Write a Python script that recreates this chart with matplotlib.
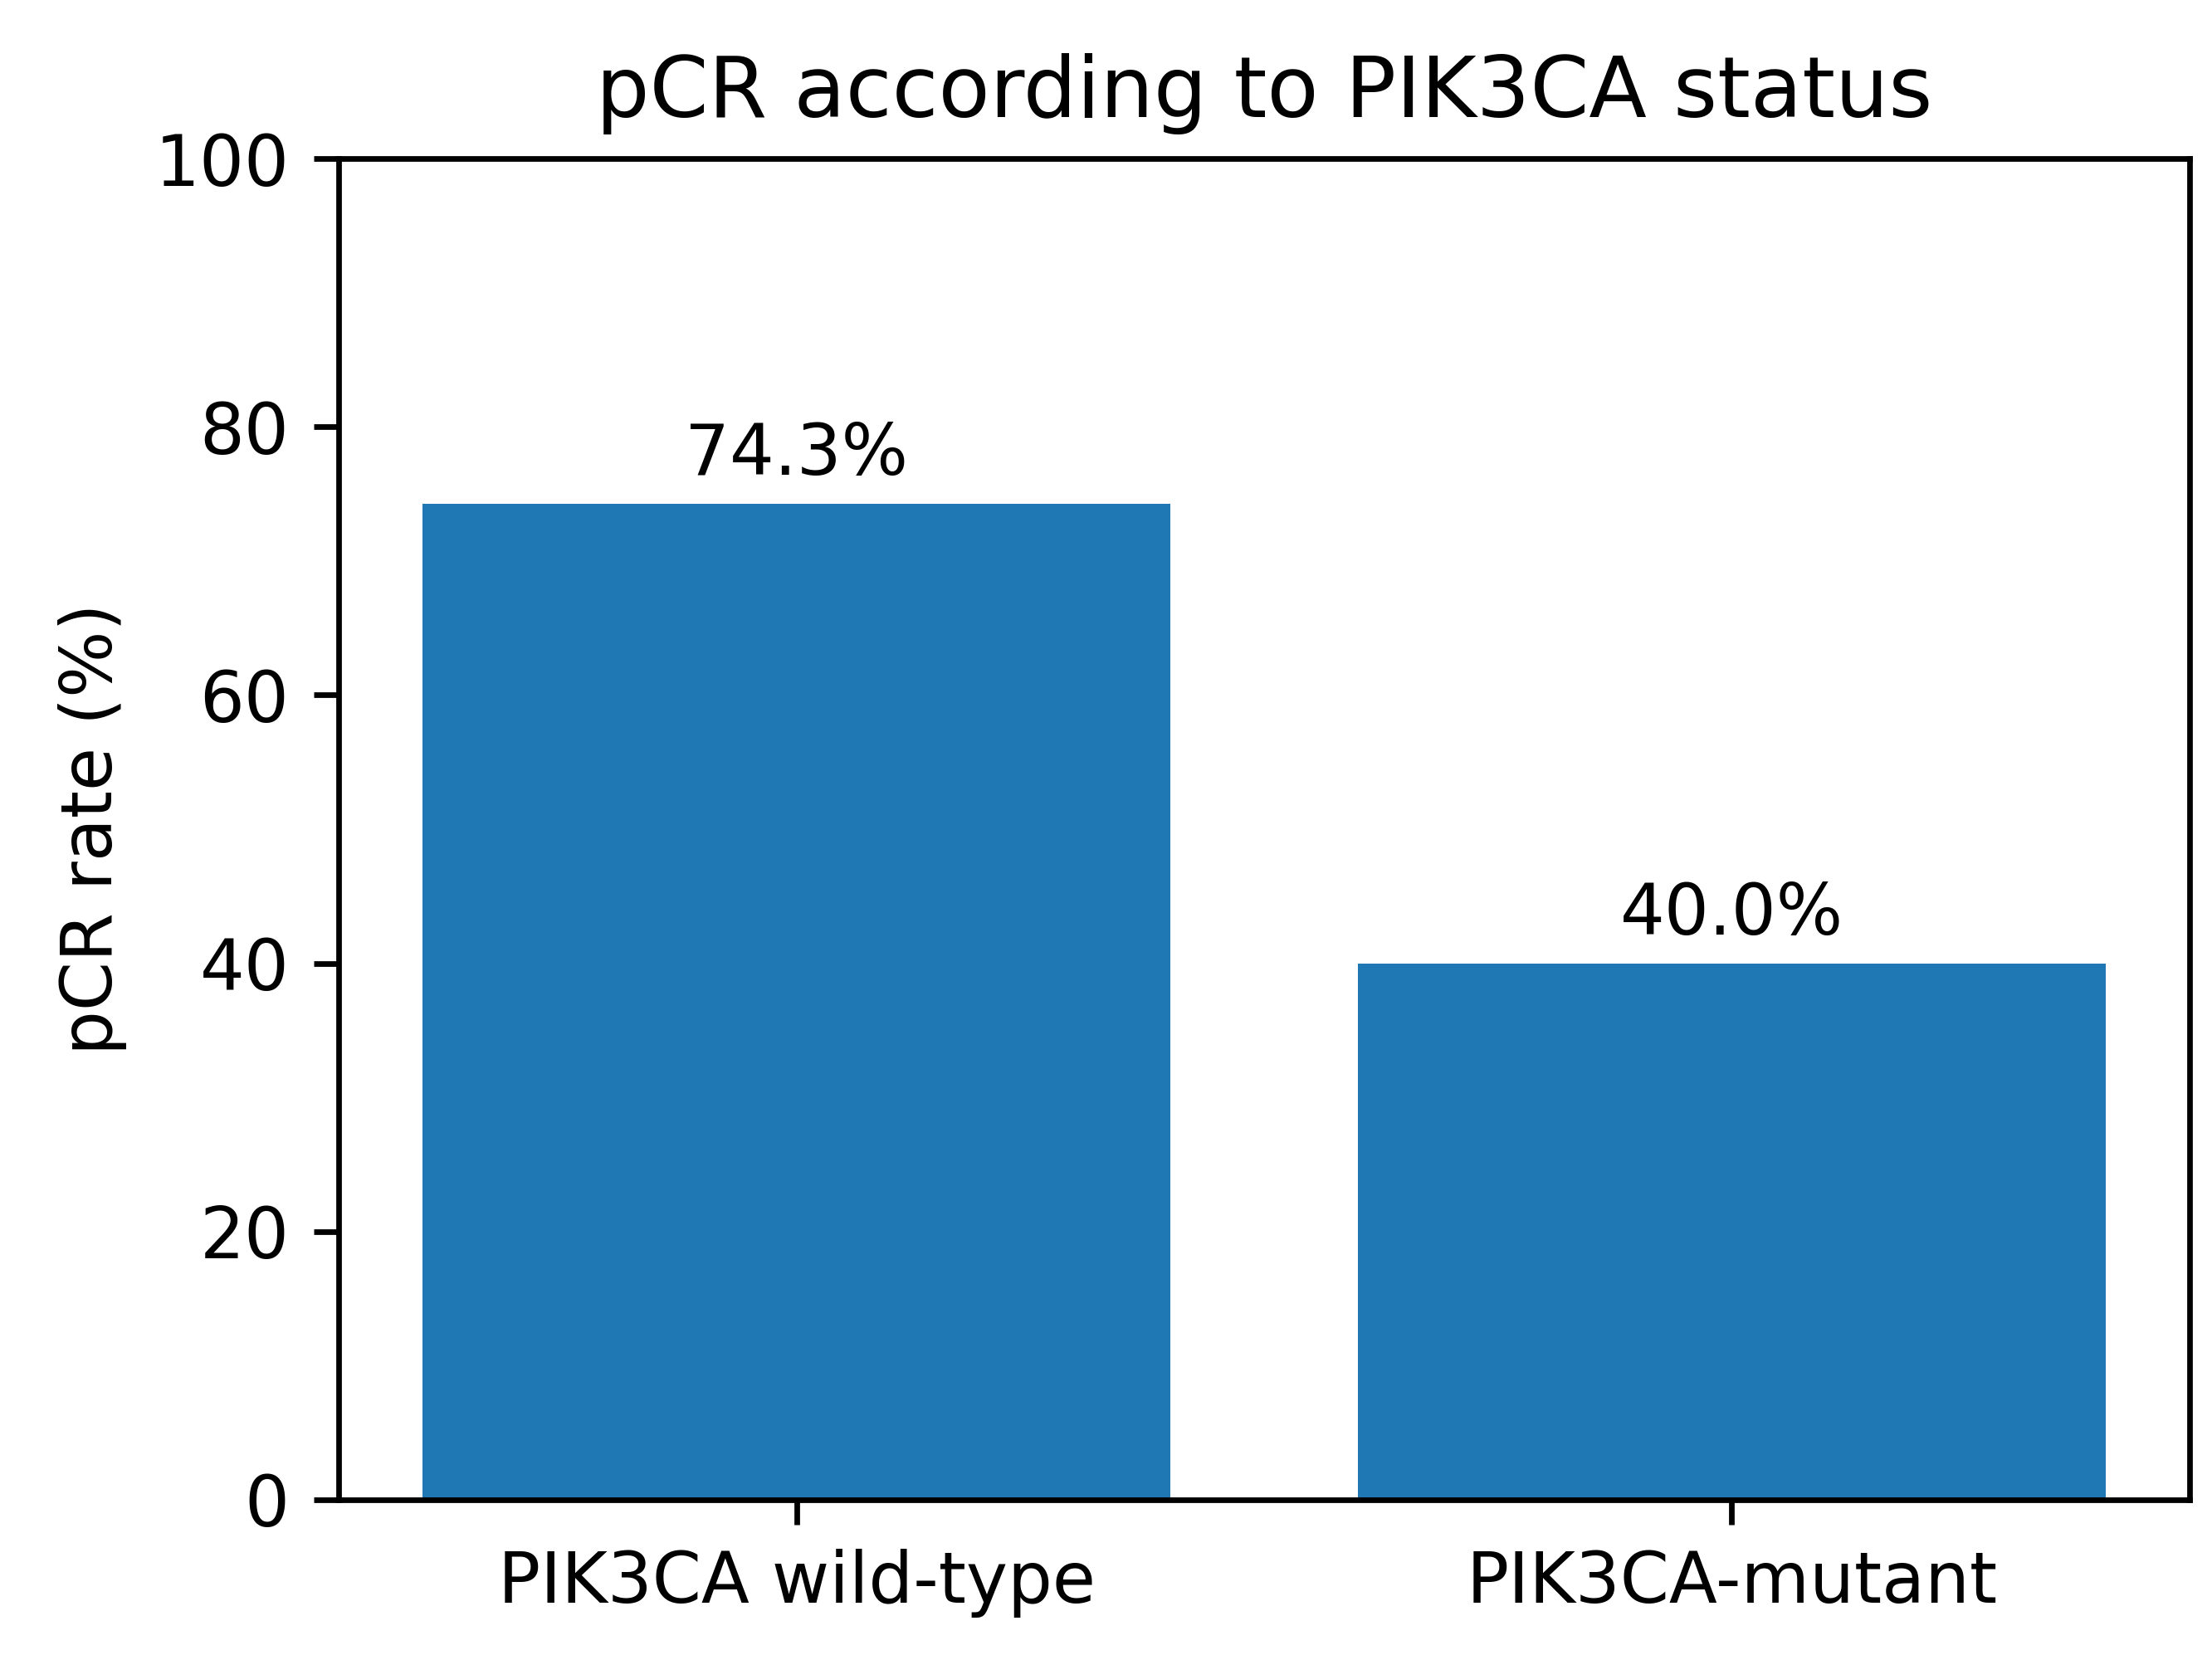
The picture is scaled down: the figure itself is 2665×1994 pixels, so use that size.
import matplotlib
matplotlib.use("Agg")
import matplotlib.pyplot as plt

categories = ["PIK3CA wild-type", "PIK3CA-mutant"]
pcr_rates = [74.3, 40.0]

dpi = 610
fig = plt.figure(figsize=(2665/dpi, 1994/dpi), dpi=dpi)
ax = fig.add_axes([0.153, 0.094, 0.837, 0.81])

bars = ax.bar(categories, pcr_rates, color='#1f77b4', width=0.8)
for b, v in zip(bars, pcr_rates):
    ax.text(b.get_x() + b.get_width()/2, v + 1, "%.1f%%" % v,
            ha='center', va='bottom')

ax.set_ylim(0, 100)
ax.set_ylabel("pCR rate (%)")
ax.set_title("pCR according to PIK3CA status")

fig.savefig("out.png", dpi=dpi)
